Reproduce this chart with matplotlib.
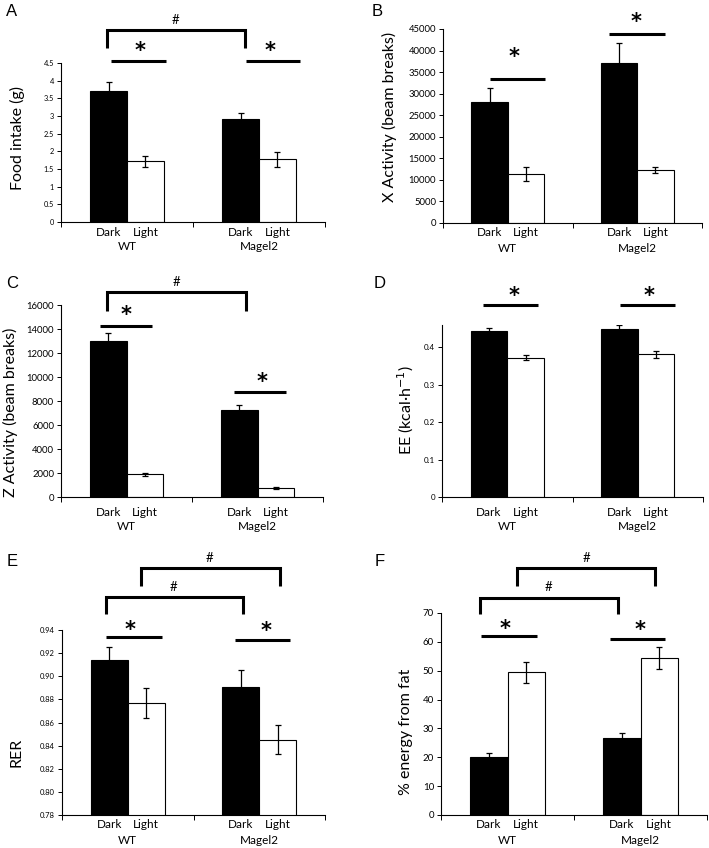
import numpy as np
import matplotlib
matplotlib.use('Agg')
import matplotlib.pyplot as plt
from matplotlib.lines import Line2D
from matplotlib.ticker import FuncFormatter

plt.rcParams['font.family'] = ['Lato', 'DejaVu Sans']

# groups and phases
groups = ['WT', 'Magel2']
phases = ['Dark', 'Light']

# A: food intake (g)
food_dark = [3.70, 2.91]
food_dark_err = [0.26, 0.18]
food_light = [1.72, 1.77]
food_light_err = [0.16, 0.21]

# B: X activity (beam breaks)
xact_dark = [28000, 37200]
xact_dark_err = [3250, 4550]
xact_light = [11400, 12250]
xact_light_err = [1620, 700]

# C: Z activity (beam breaks)
zact_dark = [13000, 7250]
zact_dark_err = [700, 420]
zact_light = [1880, 780]
zact_light_err = [110, 80]

# D: EE (kcal/h)
ee_dark = [0.443, 0.448]
ee_dark_err = [0.008, 0.011]
ee_light = [0.373, 0.382]
ee_light_err = [0.007, 0.009]

# E: RER
rer_dark = [0.914, 0.891]
rer_dark_err = [0.011, 0.014]
rer_light = [0.877, 0.845]
rer_light_err = [0.013, 0.0125]

# F: % energy from fat
fat_dark = [20.2, 26.7]
fat_dark_err = [1.4, 1.7]
fat_light = [49.4, 54.3]
fat_light_err = [3.6, 3.8]

W, H = 709, 848
fig = plt.figure(figsize=(W / 100, H / 100), dpi=100)


def fx(x):
    return x / W


def fy(y):
    return 1 - y / H


def add_ax(left, right, top, bottom):
    return fig.add_axes([fx(left), fy(bottom), (right - left) / W, (bottom - top) / H])


def line(xs, ys, lw=2.2):
    fig.add_artist(Line2D([fx(v) for v in xs], [fy(v) for v in ys], color='black',
                          lw=lw, solid_capstyle='butt', solid_joinstyle='miter'))


def star(x, y):
    fig.text(fx(x), fy(y), '*', ha='center', va='center', fontsize=15,
             fontweight='bold', family='DejaVu Sans')


def hash_mark(x, y):
    fig.text(fx(x), fy(y), '#', ha='center', va='center', fontsize=9.5)


def bracket(x0, x1, top, bottom):
    line([x0, x0, x1, x1], [bottom, top, top, bottom])


def ylabel(x, y, s):
    fig.text(fx(x), fy(y), s, rotation=90, ha='center', va='center', fontsize=11.5)


def panel(ax, dark, dark_err, light, light_err, ylim, yticks, fmt, tick_fs,
          lab_off=(10, 25)):
    x = np.arange(len(groups))
    w = 0.28
    ekw = dict(elinewidth=0.9, capthick=0.9, ecolor='black')
    ax.bar(x - w / 2, dark, w, color='black', edgecolor='black', linewidth=0.8,
           yerr=dark_err, capsize=2.5, error_kw=ekw)
    ax.bar(x + w / 2, light, w, color='white', edgecolor='black', linewidth=0.8,
           yerr=light_err, capsize=2.5, error_kw=ekw)
    ax.set_xlim(-0.5, 1.5)
    ax.set_ylim(*ylim)
    ax.set_yticks(yticks)
    ax.yaxis.set_major_formatter(FuncFormatter(fmt))
    ax.tick_params(axis='y', direction='out', length=3, width=0.7, labelsize=tick_fs, pad=2)
    ax.set_xticks([])
    ax.set_xticks([-0.5, 0.5, 1.5], minor=True)
    ax.tick_params(axis='x', which='minor', direction='out', length=3.5, width=0.7)
    for s in ['top', 'right']:
        ax.spines[s].set_visible(False)
    for s in ['left', 'bottom']:
        ax.spines[s].set_linewidth(0.8)
    for i, g in enumerate(groups):
        for j, p in enumerate(phases):
            ax.annotate(p, xy=(i + (j - 0.5) * w, 0), xycoords=('data', 'axes fraction'),
                        xytext=(0, -lab_off[0] * 0.72), textcoords='offset points',
                        ha='center', va='center', fontsize=8.5)
        ax.annotate(g, xy=(i, 0), xycoords=('data', 'axes fraction'),
                    xytext=(0, -lab_off[1] * 0.72), textcoords='offset points',
                    ha='center', va='center', fontsize=8.5)


gen = lambda v, _: f'{v:g}'

# A
axA = add_ax(61, 325, 63, 222)
panel(axA, food_dark, food_dark_err, food_light, food_light_err, (0, 4.5),
      np.arange(0, 4.51, 0.5), gen, 5.3)
ylabel(17, 138, 'Food intake (g)')
bracket(107, 245, 30, 48)
hash_mark(175, 20)
line([111, 166], [61, 61])
line([246, 300], [61, 61])
star(140, 51)
star(270, 51)

# B
axB = add_ax(443, 702, 29, 223)
panel(axB, xact_dark, xact_dark_err, xact_light, xact_light_err, (0, 45000),
      np.arange(0, 45001, 5000), gen, 6.8)
ylabel(389, 117, 'X Activity (beam breaks)')
line([490, 545], [79, 79])
line([609, 665], [34, 34])
star(514, 57)
star(636, 22)

# C
axC = add_ax(61, 323, 305, 497)
panel(axC, zact_dark, zact_dark_err, zact_light, zact_light_err, (0, 16000),
      np.arange(0, 16001, 2000), gen, 6.8, lab_off=(15, 30))
ylabel(10, 412, 'Z Activity (beam breaks)')
bracket(107, 246, 292, 311)
hash_mark(176, 282)
line([100, 152], [326, 326])
line([234, 286], [392, 392])
star(126, 315)
star(262, 382)

# D
axD = add_ax(442, 703, 325, 497)
panel(axD, ee_dark, ee_dark_err, ee_light, ee_light_err, (0, 0.46),
      np.arange(0, 0.41, 0.1), lambda v, _: f'{v:.1f}' if v else '0', 5.8, lab_off=(15, 30))
ylabel(406, 410, 'EE (kcal·h$^{-1}$)')
line([483, 538], [305, 305])
line([620, 675], [305, 305])
star(514, 296)
star(649, 296)

# E
axE = add_ax(62, 325, 630, 815)
panel(axE, rer_dark, rer_dark_err, rer_light, rer_light_err, (0.78, 0.94),
      np.arange(0.78, 0.9401, 0.02), lambda v, _: f'{v:.2f}', 5.5)
ylabel(16, 752, 'RER')
bracket(106, 243, 597, 614)
hash_mark(173, 587)
bracket(141, 280, 568, 586)
hash_mark(209, 558)
line([106, 162], [637, 637])
line([235, 290], [640, 640])
star(130, 630)
star(266, 631)

# F
axF = add_ax(441, 707, 613, 815)
panel(axF, fat_dark, fat_dark_err, fat_light, fat_light_err, (0, 70),
      np.arange(0, 71, 10), gen, 7)
ylabel(406, 732, '% energy from fat')
bracket(480, 618, 598, 614)
hash_mark(548, 587)
bracket(517, 655, 568, 586)
hash_mark(586, 558)
line([481, 537], [636, 636])
line([610, 665], [639, 639])
star(505, 629)
star(640, 630)

# panel letters
for lab, (px, py) in zip('ABCDEF', [(12, 12), (377, 12), (12, 284), (380, 284), (12, 562), (380, 562)]):
    fig.text(fx(px), fy(py), lab, ha='center', va='center', fontsize=12, family='Liberation Sans')

fig.savefig('out.png', dpi=100)
